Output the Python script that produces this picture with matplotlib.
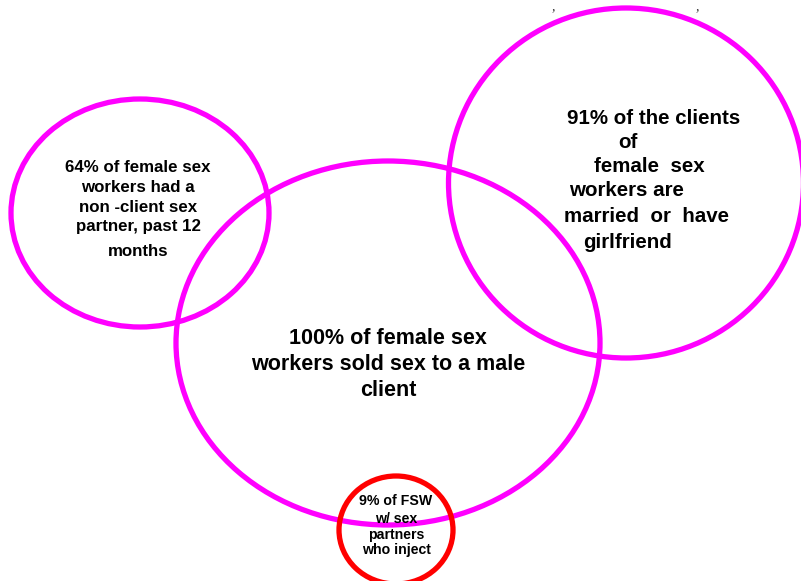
import matplotlib
matplotlib.use("Agg")
import matplotlib.pyplot as plt
from matplotlib.patches import Ellipse

# ---- data ----
groups = ["non-client partner", "clients married", "sold sex", "partners inject"]
percents = [64, 91, 100, 9]
center_x = [140, 626, 388, 396]
center_y = [213, 183, 343, 530]
widths = [258, 355, 424, 114]
heights = [228, 350, 364, 108]
ring_colors = ["#FF00FF", "#FF00FF", "#FF00FF", "#FF0000"]

left_lines = ["64% of female sex", "workers had a", "non -client sex", "partner, past 12", "months"]
left_y = [168, 188, 207, 227, 251]

right_lines = ["91% of the clients", "of", "female  sex", "workers are", "married  or  have", "girlfriend"]
right_x = [567, 618, 594, 569, 564, 583]
right_y = [118, 142, 166, 191, 216, 243]

center_lines = ["100% of female sex", "workers sold sex to a male", "client"]
center_ly = [339, 364, 391]

red_lines = ["9% of FSW", "w/ sex", "partners", "who inject"]
red_ly = [501, 519, 535, 550]

W, H = 801, 581
fig = plt.figure(figsize=(W / 100, H / 100), dpi=100)
ax = fig.add_axes([0, 0, 1, 1])
ax.set_xlim(0, W)
ax.set_ylim(H, 0)
ax.axis("off")

for cx, cy, w, h, c in zip(center_x, center_y, widths, heights, ring_colors):
    ax.add_patch(Ellipse((cx, cy), w, h, fill=False, edgecolor=c, lw=3.8,
                         zorder=3 if c == "#FF0000" else 2))

font = "Liberation Sans"
for t, y in zip(left_lines, left_y):
    ax.text(138, y, t, ha="center", va="center", fontsize=12.2,
            fontweight="bold", family=font, zorder=5)
for t, x, y in zip(right_lines, right_x, right_y):
    ax.text(x, y, t, ha="left", va="center", fontsize=14.8,
            fontweight="bold", family=font, zorder=5)
for t, y in zip(center_lines, center_ly):
    ax.text(388, y, t, ha="center", va="center", fontsize=15.5,
            fontweight="bold", family=font, zorder=5)
for t, y in zip(red_lines, red_ly):
    ax.text(396, y, t, ha="center", va="center", fontsize=10.2,
            fontweight="bold", family=font, zorder=5)

# small fragments of text at the top edge
ax.text(553, 0, ",", ha="center", va="top", fontsize=10,
        style="italic", family="Liberation Serif", color="#333333")
ax.text(697, 0, ",", ha="center", va="top", fontsize=10,
        style="italic", family="Liberation Serif", color="#333333")

fig.savefig("out.png", dpi=100)
